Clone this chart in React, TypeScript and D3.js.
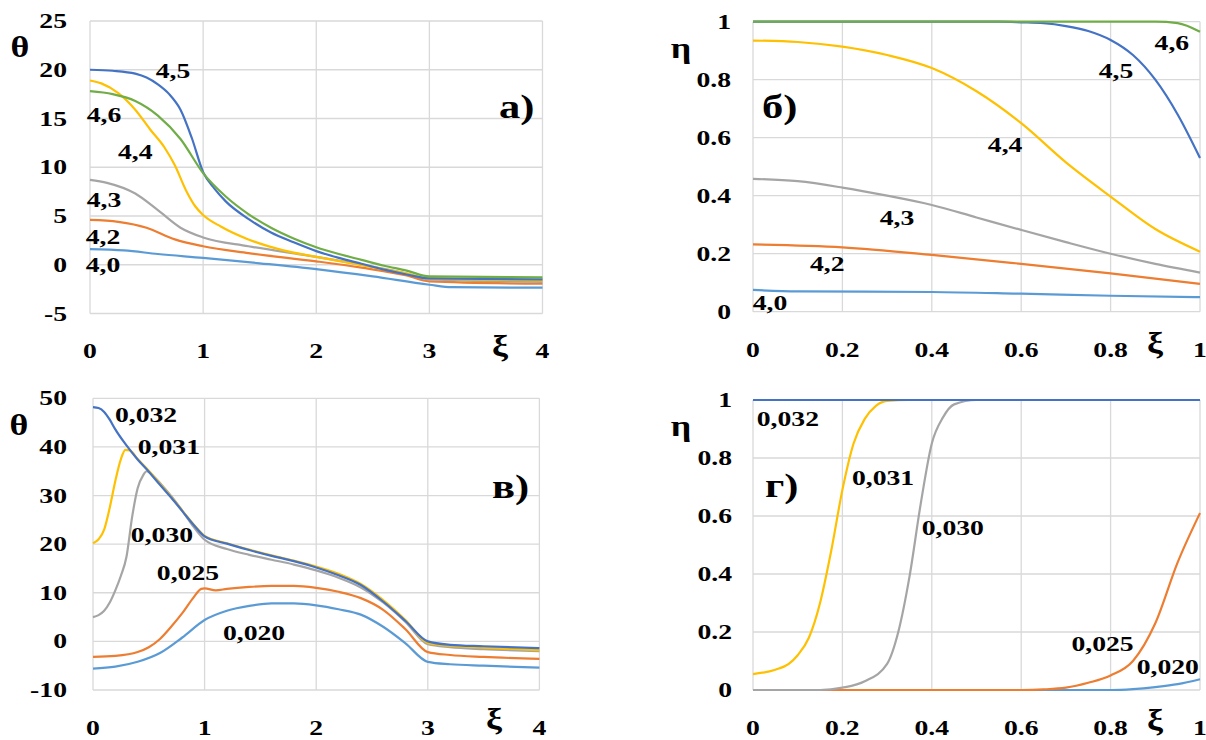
import React from 'react';
import * as d3 from 'd3';

const SERIF = '"Liberation Serif", "Times New Roman", serif';
const LBLUE = '#5B9BD5';
const ORANGE = '#ED7D31';
const GRAY = '#A5A5A5';
const YELLOW = '#FFC000';
const BLUE = '#4472C4';
const GREEN = '#70AD47';

type Pt = [number, number];

// panel a) theta vs xi
const a40: Pt[] = [[0, 1.6], [0.3, 1.47], [0.6, 1.1], [1.0, 0.7], [1.5, 0.15], [2.0, -0.45], [2.5, -1.2], [3.0, -2.05], [3.2, -2.3], [4.0, -2.35]];
const a42: Pt[] = [[0, 4.6], [0.25, 4.4], [0.5, 3.8], [0.75, 2.6], [1.0, 1.9], [1.4, 1.2], [2.0, 0.35], [2.4, -0.3], [2.8, -1.1], [3.0, -1.7], [4.0, -1.95]];
const a43: Pt[] = [[0, 8.7], [0.15, 8.4], [0.4, 7.3], [0.6, 5.6], [0.8, 3.8], [1.0, 2.8], [1.4, 1.9], [2.0, 0.8], [2.4, 0.0], [2.8, -0.9], [3.0, -1.5], [4.0, -1.75]];
const a44: Pt[] = [[0, 18.9], [0.1, 18.6], [0.25, 17.6], [0.4, 15.9], [0.53, 13.9], [0.66, 12.0], [0.75, 10.2], [0.85, 7.6], [0.93, 6.0], [1.0, 5.1], [1.16, 3.9], [1.4, 2.6], [1.7, 1.5], [2.0, 0.8], [2.4, -0.05], [2.8, -0.9], [3.0, -1.4], [4.0, -1.6]];
const a45: Pt[] = [[0, 20], [0.2, 19.9], [0.4, 19.6], [0.5, 19.2], [0.6, 18.5], [0.7, 17.5], [0.8, 15.9], [0.9, 13.0], [1.0, 9.5], [1.1, 7.8], [1.2, 6.5], [1.4, 4.7], [1.6, 3.3], [1.8, 2.3], [2.0, 1.4], [2.2, 0.7], [2.4, 0.1], [2.6, -0.5], [2.8, -1.0], [3.0, -1.4], [4.0, -1.5]];
const a46: Pt[] = [[0, 17.8], [0.2, 17.5], [0.4, 16.8], [0.6, 15.3], [0.8, 12.9], [1.0, 9.4], [1.2, 7.0], [1.4, 5.2], [1.6, 3.8], [1.8, 2.7], [2.0, 1.8], [2.2, 1.1], [2.4, 0.5], [2.6, -0.1], [2.8, -0.6], [3.0, -1.2], [4.0, -1.3]];

// panel б) eta vs xi
const b40: Pt[] = [[0, 0.075], [0.1, 0.07], [0.4, 0.068], [0.6, 0.062], [0.8, 0.055], [1, 0.05]];
const b42: Pt[] = [[0, 0.232], [0.2, 0.222], [0.4, 0.196], [0.6, 0.165], [0.8, 0.132], [1, 0.096]];
const b43: Pt[] = [[0, 0.458], [0.1, 0.45], [0.2, 0.428], [0.3, 0.4], [0.4, 0.368], [0.5, 0.325], [0.6, 0.282], [0.7, 0.24], [0.8, 0.2], [0.9, 0.165], [1, 0.135]];
const b44: Pt[] = [[0, 0.935], [0.1, 0.93], [0.2, 0.914], [0.3, 0.885], [0.4, 0.84], [0.5, 0.76], [0.6, 0.65], [0.7, 0.515], [0.8, 0.397], [0.9, 0.285], [1, 0.207]];
const b45: Pt[] = [[0, 1], [0.55, 1], [0.6, 0.998], [0.65, 0.995], [0.7, 0.985], [0.75, 0.968], [0.8, 0.937], [0.85, 0.885], [0.9, 0.8], [0.95, 0.68], [1, 0.53]];
const b46: Pt[] = [[0, 1], [0.9, 1], [0.95, 0.995], [1, 0.965]];

// panel в) theta vs xi
const v20: Pt[] = [[0, -5.6], [0.2, -5.2], [0.4, -4.2], [0.6, -2.4], [0.8, 0.8], [1.0, 4.4], [1.2, 6.3], [1.4, 7.3], [1.6, 7.8], [1.8, 7.8], [2.0, 7.4], [2.2, 6.6], [2.4, 5.5], [2.6, 3.0], [2.8, -0.4], [3.0, -4.2], [3.2, -4.7], [3.5, -5.0], [4.0, -5.4]];
const v25: Pt[] = [[0, -3.2], [0.2, -3.0], [0.4, -2.2], [0.5, -1.2], [0.6, 0.5], [0.7, 3.0], [0.8, 5.8], [0.9, 9.0], [0.97, 10.8], [1.0, 10.9], [1.1, 10.5], [1.2, 10.8], [1.4, 11.2], [1.6, 11.4], [1.8, 11.4], [2.0, 11.0], [2.2, 10.2], [2.4, 8.9], [2.6, 6.5], [2.8, 2.5], [3.0, -2.2], [3.2, -2.8], [3.5, -3.2], [4.0, -3.6]];
const v30: Pt[] = [[0, 5.0], [0.05, 5.4], [0.1, 6.3], [0.15, 8.0], [0.2, 10.5], [0.25, 13.5], [0.3, 17.4], [0.35, 25.5], [0.4, 31.5], [0.45, 34.2], [0.48, 35.0], [0.55, 33.8], [0.6, 32.6], [0.7, 29.9], [0.8, 26.9], [0.9, 23.6], [1.0, 20.9], [1.2, 19.0], [1.4, 17.8], [1.6, 16.8], [1.8, 15.8], [2.0, 14.6], [2.2, 13.1], [2.4, 11.1], [2.6, 8.0], [2.8, 4.0], [3.0, -0.6], [3.2, -1.2], [3.5, -1.6], [4.0, -2.0]];
const v31: Pt[] = [[0, 20.2], [0.05, 21.0], [0.1, 23.0], [0.15, 27.5], [0.2, 33.0], [0.25, 37.5], [0.29, 39.4], [0.33, 39.3], [0.4, 37.5], [0.5, 35.1], [0.6, 32.4], [0.7, 29.7], [0.8, 26.9], [0.9, 24.1], [1.0, 21.7], [1.2, 20.2], [1.4, 18.9], [1.6, 17.7], [1.8, 16.6], [2.0, 15.4], [2.2, 13.9], [2.4, 11.8], [2.6, 8.5], [2.8, 4.4], [3.0, -0.3], [3.2, -0.9], [3.5, -1.3], [4.0, -1.8]];
const v32: Pt[] = [[0, 48.2], [0.05, 48.0], [0.1, 47.2], [0.15, 45.6], [0.2, 43.6], [0.3, 40.3], [0.4, 37.4], [0.5, 34.9], [0.6, 32.2], [0.7, 29.6], [0.8, 26.8], [0.9, 24.0], [1.0, 21.6], [1.2, 20.1], [1.4, 18.8], [1.6, 17.6], [1.8, 16.5], [2.0, 15.2], [2.2, 13.6], [2.4, 11.6], [2.6, 8.2], [2.8, 4.2], [3.0, 0.0], [3.2, -0.7], [3.5, -1.0], [4.0, -1.4]];

// panel г) eta vs xi
const g20: Pt[] = [[0, 0], [0.8, 0], [0.85, 0.003], [0.9, 0.01], [0.95, 0.02], [1, 0.037]];
const g25: Pt[] = [[0, 0], [0.6, 0], [0.65, 0.002], [0.7, 0.008], [0.75, 0.025], [0.8, 0.05], [0.85, 0.1], [0.9, 0.23], [0.95, 0.44], [1, 0.61]];
const g30: Pt[] = [[0, 0], [0.15, 0], [0.2, 0.008], [0.25, 0.03], [0.3, 0.09], [0.325, 0.2], [0.35, 0.39], [0.375, 0.64], [0.4, 0.85], [0.425, 0.94], [0.45, 0.985], [0.5, 1], [1, 1]];
const g31: Pt[] = [[0, 0.055], [0.05, 0.07], [0.08, 0.09], [0.1, 0.12], [0.125, 0.18], [0.15, 0.3], [0.175, 0.48], [0.2, 0.69], [0.225, 0.85], [0.25, 0.935], [0.275, 0.98], [0.3, 0.997], [0.35, 1], [1, 1]];
const g32: Pt[] = [[0, 1], [1, 1]];

const ticks04 = [0, 1, 2, 3, 4];
const ticks01 = [0, 0.2, 0.4, 0.6, 0.8, 1];
const ticksA = [-5, 0, 5, 10, 15, 20, 25];
const ticksV = [-10, 0, 10, 20, 30, 40, 50];
const fmt01 = (d: number) => (d === 0 || d === 1 ? String(d) : d.toFixed(1));

const T = ({ x, y, size = 20.5, anchor = 'middle', sx = 1.35, children }: any) => (
  <text
    transform={`translate(${x},${y}) scale(${sx},1)`}
    textAnchor={anchor}
    fontSize={size}
    fontWeight="bold"
    fontFamily={SERIF}
    fill="#000"
  >
    {children}
  </text>
);

type Series = { pts: Pt[]; color: string };
type Label = { text: string; x: number; y: number };

const Panel = ({ box, xDomain, yDomain, xTicks, yTicks, xFmt, series, labels, yTitle, yTitlePos, xiPos, tag, tagPos, tickGap, xLabelDy }: any) => {
  const x = d3.scaleLinear().domain(xDomain).range([box.l, box.r]);
  const y = d3.scaleLinear().domain(yDomain).range([box.b, box.t]);
  const line = d3.line<Pt>().x(d => x(d[0])).y(d => y(d[1])).curve(d3.curveMonotoneX);
  return (
    <g>
      {yTicks.map((t: number) => (
        <line key={'h' + t} x1={box.l} x2={box.r} y1={y(t)} y2={y(t)} stroke="#D9D9D9" strokeWidth={1.3} />
      ))}
      {xTicks.map((t: number) => (
        <line key={'v' + t} x1={x(t)} x2={x(t)} y1={box.t} y2={box.b} stroke="#D9D9D9" strokeWidth={1.3} />
      ))}
      {series.map((s: Series, i: number) => (
        <path key={i} d={line(s.pts) || ''} fill="none" stroke={s.color} strokeWidth={2.2} strokeLinejoin="round" />
      ))}
      {yTicks.map((t: number) => (
        <T key={'yl' + t} x={box.l - tickGap} y={y(t) + 7} anchor="end">{String(t)}</T>
      ))}
      {xTicks.map((t: number) => (
        <T key={'xl' + t} x={x(t)} y={box.b + xLabelDy}>{xFmt(t)}</T>
      ))}
      {labels.map((l: Label) => (
        <T key={l.text} x={x(l.x)} y={y(l.y) + 7}>{l.text}</T>
      ))}
      <T x={yTitlePos[0]} y={yTitlePos[1]} size={30} sx={1.2}>{yTitle}</T>
      <T x={xiPos[0]} y={xiPos[1]} size={30} sx={1.2}>ξ</T>
      <T x={tagPos[0]} y={tagPos[1]} size={34} sx={1.25} anchor="start">{tag}</T>
    </g>
  );
};

export default function App() {
  return (
    <div style={{ position: 'absolute', left: 0, top: 0 }}>
      <svg width={1206} height={740} style={{ display: 'block', background: '#fff' }}>
        <Panel
          box={{ l: 90, r: 542.5, t: 21, b: 313.5 }}
          xDomain={[0, 4]} yDomain={[-5, 25]} xTicks={ticks04} yTicks={ticksA} xFmt={String}
          series={[{ pts: a40, color: LBLUE }, { pts: a42, color: ORANGE }, { pts: a43, color: GRAY }, { pts: a44, color: YELLOW }, { pts: a45, color: BLUE }, { pts: a46, color: GREEN }]}
          labels={[{ text: '4,5', x: 0.734, y: 19.9 }, { text: '4,6', x: 0.124, y: 15.4 }, { text: '4,4', x: 0.4, y: 11.6 }, { text: '4,3', x: 0.124, y: 6.66 }, { text: '4,2', x: 0.115, y: 2.87 }, { text: '4,0', x: 0.115, y: 0 }]}
          yTitle="θ" yTitlePos={[20, 57]} xiPos={[500, 356]} tag="а)" tagPos={[499, 118]} tickGap={23} xLabelDy={44}
        />
        <Panel
          box={{ l: 753, r: 1200, t: 21.7, b: 311.7 }}
          xDomain={[0, 1]} yDomain={[0, 1]} xTicks={ticks01} yTicks={ticks01} xFmt={fmt01}
          series={[{ pts: b40, color: LBLUE }, { pts: b42, color: ORANGE }, { pts: b43, color: GRAY }, { pts: b44, color: YELLOW }, { pts: b45, color: BLUE }, { pts: b46, color: GREEN }]}
          labels={[{ text: '4,6', x: 0.937, y: 0.926 }, { text: '4,5', x: 0.812, y: 0.83 }, { text: '4,4', x: 0.564, y: 0.575 }, { text: '4,3', x: 0.322, y: 0.323 }, { text: '4,2', x: 0.166, y: 0.164 }, { text: '4,0', x: 0.038, y: 0.03 }]}
          yTitle="η" yTitlePos={[681, 58]} xiPos={[1155, 353]} tag="б)" tagPos={[762, 118]} tickGap={22} xLabelDy={45}
        />
        <Panel
          box={{ l: 93, r: 539.4, t: 398.3, b: 690 }}
          xDomain={[0, 4]} yDomain={[-10, 50]} xTicks={ticks04} yTicks={ticksV} xFmt={String}
          series={[{ pts: v20, color: LBLUE }, { pts: v25, color: ORANGE }, { pts: v30, color: GRAY }, { pts: v31, color: YELLOW }, { pts: v32, color: BLUE }]}
          labels={[{ text: '0,032', x: 0.475, y: 46.6 }, { text: '0,031', x: 0.68, y: 39.9 }, { text: '0,030', x: 0.618, y: 21.9 }, { text: '0,025', x: 0.851, y: 14.1 }, { text: '0,020', x: 1.443, y: 1.75 }]}
          yTitle="θ" yTitlePos={[19, 435]} xiPos={[494, 729]} tag="в)" tagPos={[492, 498]} tickGap={26} xLabelDy={45}
        />
        <Panel
          box={{ l: 753, r: 1200, t: 400, b: 690 }}
          xDomain={[0, 1]} yDomain={[0, 1]} xTicks={ticks01} yTicks={ticks01} xFmt={fmt01}
          series={[{ pts: g20, color: LBLUE }, { pts: g25, color: ORANGE }, { pts: g30, color: GRAY }, { pts: g31, color: YELLOW }, { pts: g32, color: BLUE }]}
          labels={[{ text: '0,032', x: 0.078, y: 0.936 }, { text: '0,031', x: 0.291, y: 0.731 }, { text: '0,030', x: 0.447, y: 0.559 }, { text: '0,025', x: 0.782, y: 0.159 }, { text: '0,020', x: 0.928, y: 0.078 }]}
          yTitle="η" yTitlePos={[681, 436]} xiPos={[1155, 730]} tag="г)" tagPos={[765, 497]} tickGap={21} xLabelDy={45}
        />
      </svg>
    </div>
  );
}
